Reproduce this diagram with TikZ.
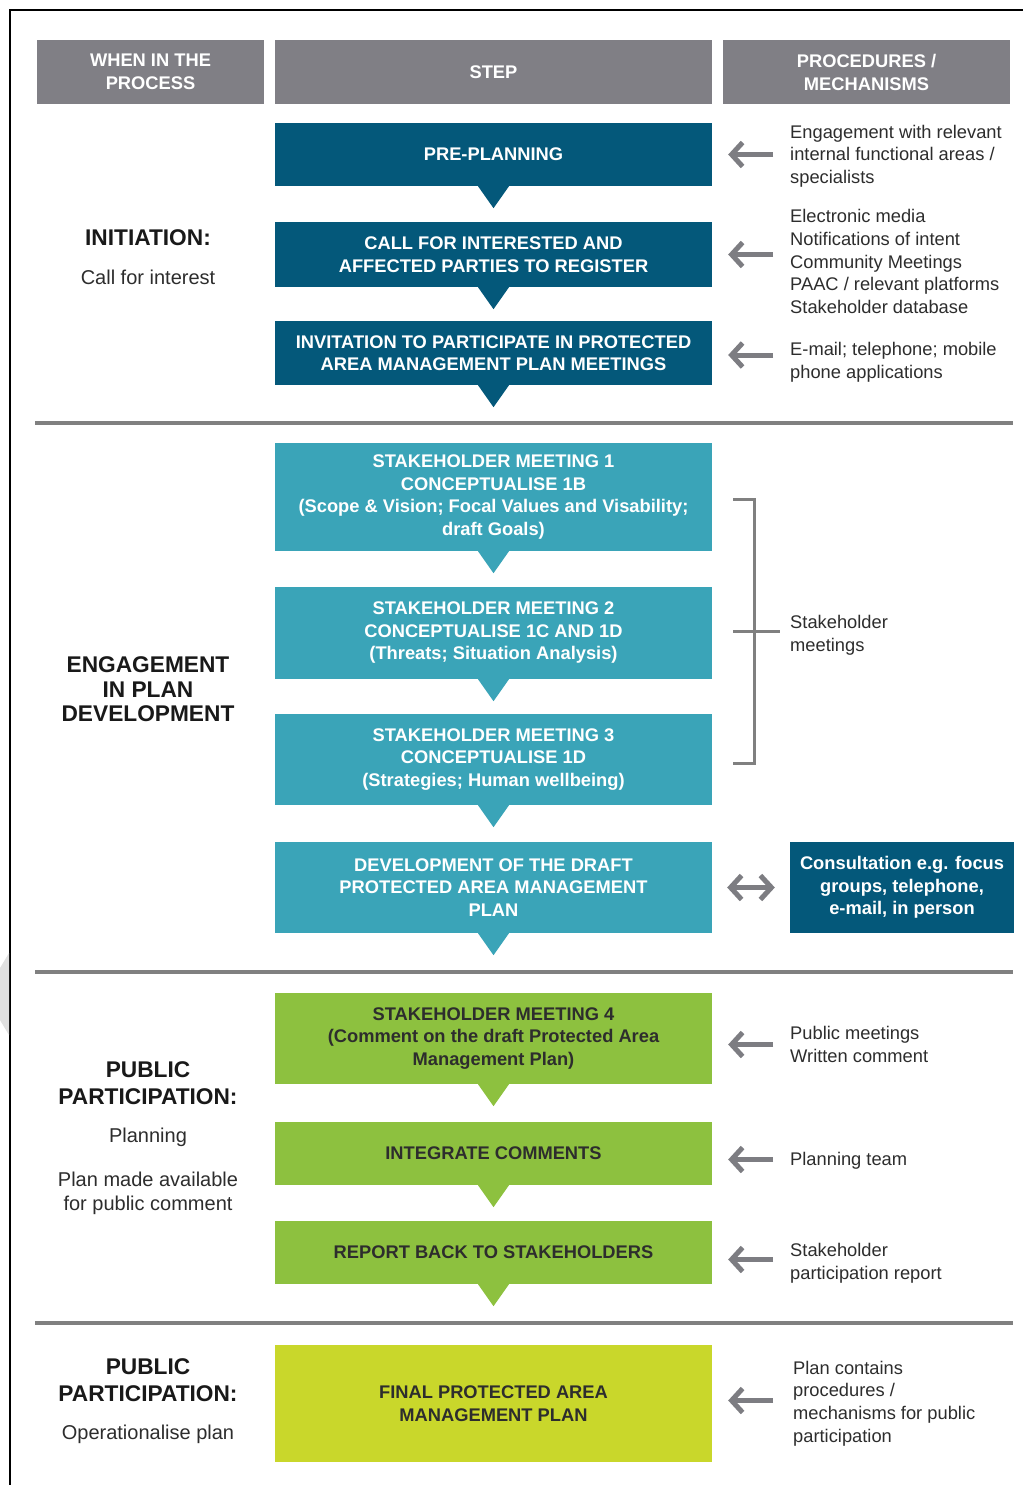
\documentclass[tikz,border=0pt]{standalone}
\usepackage{fontspec}
\setmainfont{Liberation Sans}
\usetikzlibrary{arrows.meta}
\definecolor{hdrgray}{RGB}{128,127,133}
\definecolor{dblue}{RGB}{4,88,122}
\definecolor{teal}{RGB}{58,164,184}
\definecolor{grn}{RGB}{141,193,63}
\definecolor{lime}{RGB}{201,215,43}
\definecolor{linegray}{RGB}{128,128,128}
\definecolor{arrgray}{RGB}{125,125,130}
\definecolor{txt}{RGB}{45,45,45}
\newcommand\stepptr[2]{\fill[#2] ([xshift=-15.5pt]#1.south) -- ([xshift=15.5pt]#1.south) -- ([yshift=-22pt]#1.south) -- cycle;}
\tikzset{
  hdr/.style={fill=hdrgray, text=white, font=\fontsize{18.3}{23}\selectfont\bfseries, align=center, inner sep=0pt, minimum height=64pt},
  stepbox/.style={text=white, font=\fontsize{18.3}{22.5}\selectfont\bfseries, align=center, inner sep=0pt, minimum width=437pt},
  darkstep/.style={stepbox, text=txt},
  proc/.style={text=txt, font=\fontsize{18.3}{22.6}\selectfont, align=left, anchor=west, inner sep=0pt},
  lefttitle/.style={text=black!90, font=\fontsize{22.7}{27}\selectfont\bfseries, align=center, inner sep=0pt},
  leftsub/.style={text=txt, font=\fontsize{20}{24}\selectfont, align=center, inner sep=0pt},
  sep/.style={linegray, line width=3.5pt},
  garrow/.style={arrgray, line width=5pt, -{Straight Barb[length=11pt,width=24pt]}},
  gdarrow/.style={arrgray, line width=5pt, {Straight Barb[length=11pt,width=24pt]}-{Straight Barb[length=11pt,width=24pt]}},
  bracket/.style={linegray, line width=3pt}
}
\begin{document}
\begin{tikzpicture}[x=1pt,y=-1pt]
\useasboundingbox (0,0) rectangle (1023,1485);
\fill[white] (0,0) rectangle (1023,1485);
% frame
\draw[black, line width=2.5pt] (10,1485) -- (10,10) -- (1023,10);
% side tab
\fill[black!12] (9,953) -- (0,968) -- (0,1020) -- (9,1035) -- cycle;

% headers
\node[hdr, minimum width=227pt] (h1) at (150.5,72) {WHEN IN THE\\PROCESS};
\node[hdr, minimum width=437pt] (h2) at (493.5,72) {STEP};
\node[hdr, minimum width=287pt] (h3) at (866.5,72) {PROCEDURES /\\MECHANISMS};

% steps
\node[stepbox, fill=dblue, minimum height=63pt] (s1) at (493.5,154.5) {PRE-PLANNING};
\node[stepbox, fill=dblue, minimum height=65pt] (s2) at (493.5,254.5) {CALL FOR INTERESTED AND\\AFFECTED PARTIES TO REGISTER};
\node[stepbox, fill=dblue, minimum height=64pt] (s3) at (493.5,353) {INVITATION TO PARTICIPATE IN PROTECTED\\AREA MANAGEMENT PLAN MEETINGS};
\node[stepbox, fill=teal, minimum height=108pt] (s4) at (493.5,497) {STAKEHOLDER MEETING 1\\CONCEPTUALISE 1B\\(Scope \& Vision; Focal Values and Visability;\\draft Goals)};
\node[stepbox, fill=teal, minimum height=92pt] (s5) at (493.5,633) {STAKEHOLDER MEETING 2\\CONCEPTUALISE 1C AND 1D\\(Threats; Situation Analysis)};
\node[stepbox, fill=teal, minimum height=91pt] (s6) at (493.5,759.5) {STAKEHOLDER MEETING 3\\CONCEPTUALISE 1D\\(Strategies; Human wellbeing)};
\node[stepbox, fill=teal, minimum height=91pt] (s7) at (493.5,887.5) {DEVELOPMENT OF THE DRAFT\\PROTECTED AREA MANAGEMENT\\PLAN};
\node[darkstep, fill=grn, minimum height=91pt] (s8) at (493.5,1038.5) {STAKEHOLDER MEETING 4\\(Comment on the draft Protected Area\\Management Plan)};
\node[darkstep, fill=grn, minimum height=63pt] (s9) at (493.5,1153.5) {INTEGRATE COMMENTS};
\node[darkstep, fill=grn, minimum height=63pt] (s10) at (493.5,1252.5) {REPORT BACK TO STAKEHOLDERS};
\node[darkstep, fill=lime, minimum height=117pt] (s11) at (493.5,1403.5) {FINAL PROTECTED AREA\\MANAGEMENT PLAN};

\stepptr{s1}{dblue}
\stepptr{s2}{dblue}
\stepptr{s3}{dblue}
\stepptr{s4}{teal}
\stepptr{s5}{teal}
\stepptr{s6}{teal}
\stepptr{s7}{teal}
\stepptr{s8}{grn}
\stepptr{s9}{grn}
\stepptr{s10}{grn}

% separators
\draw[sep] (35,423) -- (1013,423);
\draw[sep] (35,972) -- (1013,972);
\draw[sep] (35,1323) -- (1013,1323);

% left column
\node[lefttitle] (l1) at (148,238) {INITIATION:};
\node[leftsub] (l1s) at (148,277) {Call for interest};
\node[lefttitle, font=\fontsize{22.7}{24.5}\selectfont\bfseries] (l2) at (148,689.5) {ENGAGEMENT\\IN PLAN\\DEVELOPMENT};
\node[lefttitle] (l3) at (148,1083.5) {PUBLIC\\PARTICIPATION:};
\node[leftsub] (l3s) at (148,1137) {Planning};
\node[leftsub] (l3t) at (148,1193) {Plan made available\\for public comment};
\node[lefttitle] (l4) at (148,1380.5) {PUBLIC\\PARTICIPATION:};
\node[leftsub] (l4s) at (148,1434) {Operationalise plan};

% procedures
\node[proc] (p1) at (790,156) {Engagement with relevant\\internal functional areas /\\specialists};
\node[proc] (p2) at (790,261.5) {Electronic media\\Notifications of intent\\Community Meetings\\PAAC / relevant platforms\\Stakeholder database};
\node[proc] (p3) at (790,362.5) {E-mail; telephone; mobile\\phone applications};
\node[proc] (p4) at (790,635) {Stakeholder\\meetings};
\node[stepbox, fill=dblue, minimum width=224pt, minimum height=91pt] (p5) at (902,887.5) {Consultation e.g. focus\\groups, telephone,\\e-mail, in person};
\node[proc] (p6) at (790,1044.5) {Public meetings\\Written comment};
\node[proc] (p7) at (790,1160.5) {Planning team};
\node[proc] (p8) at (790,1263) {Stakeholder\\participation report};
\node[proc] (p9) at (793,1403.5) {Plan contains\\procedures /\\mechanisms for public\\participation};

% arrows
\draw[garrow] ([xshift=61pt]s1.east) -- ([xshift=16pt]s1.east);
\draw[garrow] ([xshift=61pt]s2.east) -- ([xshift=16pt]s2.east);
\draw[garrow] ([xshift=61pt,yshift=-2pt]s3.east) -- ([xshift=16pt,yshift=-2pt]s3.east);
\draw[gdarrow] ([xshift=-15pt]p5.west) -- ([xshift=15pt]s7.east);
\draw[garrow] ([xshift=61pt,yshift=-6pt]s8.east) -- ([xshift=16pt,yshift=-6pt]s8.east);
\draw[garrow] ([xshift=61pt,yshift=-6pt]s9.east) -- ([xshift=16pt,yshift=-6pt]s9.east);
\draw[garrow] ([xshift=61pt,yshift=-7pt]s10.east) -- ([xshift=16pt,yshift=-7pt]s10.east);
\draw[garrow] ([xshift=61pt,yshift=3pt]s11.east) -- ([xshift=16pt,yshift=3pt]s11.east);

% bracket
\coordinate (bt) at (754,499);
\coordinate (bb) at (754,763);
\draw[bracket] ([xshift=-21pt]bt) -- (bt) -- (bb) -- ([xshift=-21pt]bb);
\draw[bracket] (733,631) -- ([xshift=-10pt]p4.west |- 0,631);
\end{tikzpicture}
\end{document}
